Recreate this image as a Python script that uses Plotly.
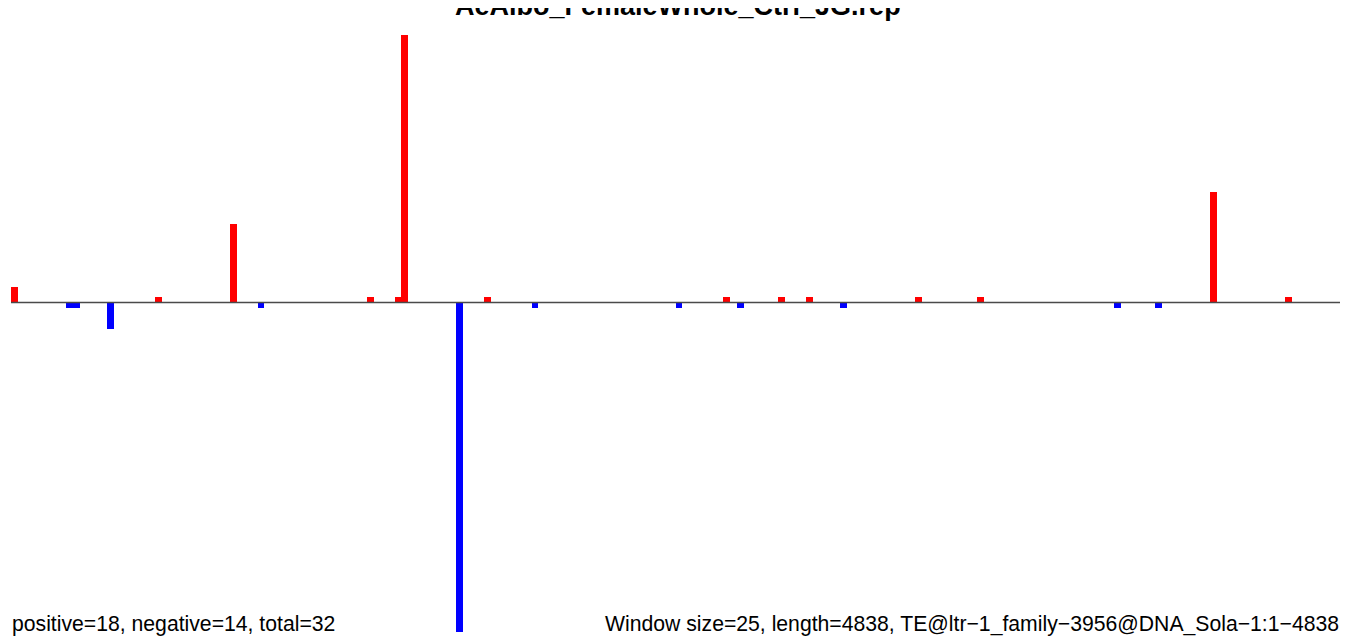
import plotly.graph_objects as go

# ---- data ----
title_text = "AeAlbo_FemaleWhole_Ctrl_JG.rep"
window_size = 25
seq_length = 4838
n_windows = 194

pos_windows = [0, 21, 32, 52, 56, 57, 69, 104, 112, 116, 132, 141, 175, 186]
pos_values = [2.9, 1, 14.8, 1, 1, 50.5, 1, 1, 1, 1, 1, 1, 20.8, 1]

neg_windows = [8, 9, 14, 36, 65, 76, 97, 106, 121, 161, 167]
neg_values = [-1.05, -1.05, -5.0, -1.05, -62.2, -1.05, -1.05, -1.05, -1.05, -1.05, -1.05]

left_note = "positive=18, negative=14, total=32"
right_note = "Window size=25, length=4838, TE@ltr\u22121_family\u22123956@DNA_Sola\u22121:1\u22124838"

# ---- figure ----
W, H = 1352, 644
OFF = 8  # page body margin offset
x_end = n_windows * window_size
px_per_bp = 1329 / x_end
left_px = 11 - OFF
x_range = [-left_px / px_per_bp, x_end + (W - left_px - 1329) / px_per_bp]

unit_px = 5.3
y_span = H / unit_px
y_max = (302.5 - OFF) / unit_px
y_range = [y_max - y_span, y_max]

fig = go.Figure()
fig.add_trace(go.Bar(
    x=[w * window_size + window_size / 2 for w in pos_windows],
    y=pos_values, width=window_size,
    marker=dict(color="#FF0000", line=dict(width=0)),
    hoverinfo="skip", showlegend=False))
fig.add_trace(go.Bar(
    x=[w * window_size + window_size / 2 for w in neg_windows],
    y=neg_values, width=window_size,
    marker=dict(color="#0000FF", line=dict(width=0)),
    hoverinfo="skip", showlegend=False))

fig.add_shape(type="line", xref="x", yref="y", x0=0, x1=x_end, y0=0, y1=0,
              line=dict(color="#4a4a4a", width=1.5), layer="above")

font_fam = "Liberation Sans, Arial, Helvetica, sans-serif"
fig.add_annotation(text="<b>" + title_text + "</b>", xref="paper", yref="paper",
                   x=0.5, y=1, xanchor="center", yanchor="middle", showarrow=False,
                   xshift=-6, yshift=OFF - 6, font=dict(family=font_fam, size=27, color="black"))
fig.add_annotation(text=left_note, xref="paper", yref="paper",
                   x=0, y=0, xanchor="left", yanchor="bottom", showarrow=False,
                   xshift=2, yshift=14, font=dict(family=font_fam, size=21.2, color="black"))
fig.add_annotation(text=right_note, xref="paper", yref="paper",
                   x=1, y=0, xanchor="right", yanchor="bottom", showarrow=False,
                   xshift=-19, yshift=14, font=dict(family=font_fam, size=21.2, color="black"))

fig.update_layout(
    width=W, height=H,
    margin=dict(l=0, r=0, t=0, b=0),
    paper_bgcolor="white", plot_bgcolor="white",
    barmode="overlay", bargap=0,
    xaxis=dict(range=x_range, visible=False, showgrid=False, zeroline=False, fixedrange=True),
    yaxis=dict(range=y_range, visible=False, showgrid=False, zeroline=False, fixedrange=True),
)

fig.write_html("out.html")
